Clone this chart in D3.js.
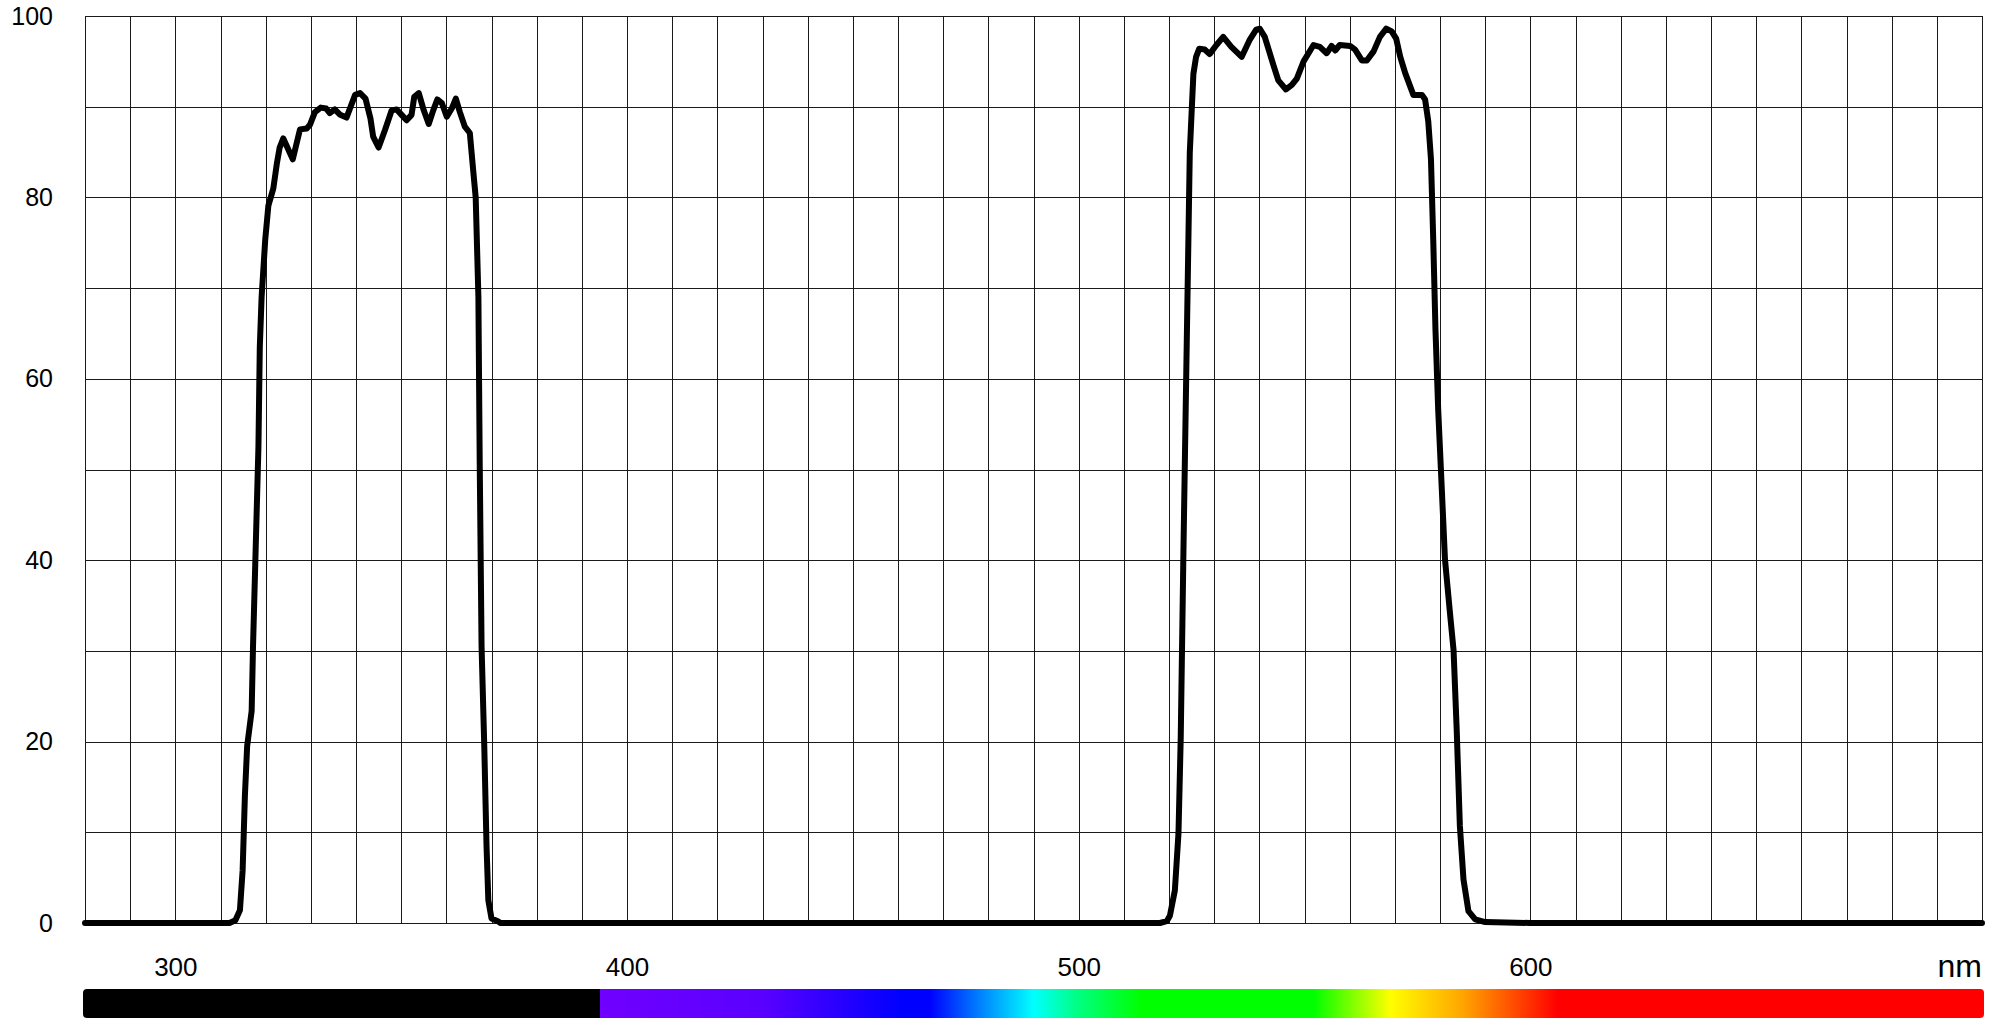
<!DOCTYPE html>
<html>
<head>
<meta charset="utf-8">
<script src="https://cdn.jsdelivr.net/npm/d3@7"></script>
<style>
  body { margin: 0; background: #fff; }
  svg { display: block; font-family: Arial, "Liberation Sans", sans-serif; }
  .grid line { stroke: #1a1a1a; stroke-width: 1; shape-rendering: crispEdges; }
  .grid path { display: none; }
  .lbl text { fill: #000; }
  .ylbl text { font-size: 25px; }
  .xlbl text { font-size: 26px; }
  .lbl path, .lbl line { display: none; }
</style>
</head>
<body>
<script>
"use strict";

// wavelength (nm) and transmission (%)
var wavelength = [280, 300, 312, 313.3, 314.3, 314.9, 315.4, 315.9, 316.9, 317.2, 317.8, 318.4, 318.7, 319.1, 319.9, 320.6,
  321.7, 322.5, 323.1, 323.9, 326.0, 327.6, 329.1, 329.8, 330.9, 332.2, 333.4, 334.2, 335.3, 336.5, 337.9, 339.8,
  340.9, 342.1, 343.2, 343.8, 345.0, 346.4, 347.9, 349.0, 350.1, 351.2, 352.3, 352.9, 353.9, 355.0, 356.1, 357.1,
  358.0, 359.0, 360.1, 361.2, 362.1, 363.0, 364.1, 365.2, 366.0, 366.5, 367.1, 367.4, 367.8, 368.4, 368.9, 369.3,
  370.0, 371.4, 372, 400, 450, 500, 518, 519.5, 520.2, 521.3, 522.1, 522.6, 523.2, 523.8, 524.3, 524.6, 525.0, 525.4,
  526.0, 526.7, 527.9, 529.0, 530.5, 532.0, 533.8, 536.1, 537.9, 539.3, 540.1, 541.2, 543.1, 544.2, 545.9, 547.2,
  548.3, 549.8, 552.0, 553.4, 554.9, 556.0, 556.8, 557.8, 560.1, 561.2, 562.7, 563.8, 565.3, 566.7, 568.1, 569.3,
  570.3, 571.2, 572.3, 574.1, 576.0, 576.7, 577.4, 578.0, 578.5, 579.0, 579.6, 580.4, 581.1, 582.2, 583.0, 583.7,
  584.4, 585.2, 586.3, 587.8, 590, 600, 650, 700];
var transmission = [0, 0, 0, 0.3, 1.4, 5.8, 14, 19.5, 23.4, 30.5, 41.5, 52.5, 63.5, 69, 75.3, 79.1,
  81, 83.8, 85.5, 86.5, 84.2, 87.5, 87.6, 88, 89.4, 89.9, 89.8, 89.3, 89.7, 89.1, 88.8, 91.3,
  91.5, 90.9, 88.7, 86.7, 85.5, 87.4, 89.6, 89.7, 89.1, 88.5, 89.1, 91.1, 91.5, 89.6, 88.1, 89.6,
  90.8, 90.4, 88.9, 89.8, 90.9, 89.4, 87.8, 87.1, 82.7, 80, 69, 50.3, 30.5, 19.5, 8.5, 2.5,
  0.5, 0.2, 0, 0, 0, 0, 0, 0.2, 0.8, 3.6, 9.9, 20.5, 41.1, 59.9, 75.5, 84.9, 89.3, 93.6,
  95.5, 96.4, 96.3, 95.8, 96.8, 97.7, 96.6, 95.5, 97.4, 98.5, 98.6, 97.7, 94.6, 92.9, 91.9, 92.4,
  93.1, 95.0, 96.8, 96.6, 95.9, 96.7, 96.2, 96.8, 96.7, 96.3, 95.1, 95.1, 96.1, 97.7, 98.6, 98.3,
  97.5, 95.5, 93.7, 91.3, 91.3, 90.8, 88.4, 84.2, 75.4, 65.4, 56.6, 47.8, 40.1, 34.2, 30.1, 21.3,
  10.7, 4.8, 1.3, 0.4, 0.1, 0, 0, 0];

// tick labels
var xLabels = [300, 400, 500, 600];
var yLabels = [0, 20, 40, 60, 80, 100];

// spectrum strip under the axis: wavelength -> colour
var stripNm = [280, 394, 394, 430, 461, 467, 478, 490, 500, 514, 552, 569, 585, 606, 700];
var stripColor = ["#000000", "#000000", "#7000ff", "#5a00ff", "#0000ff", "#0000ff", "#0080ff", "#00ffff",
  "#00ff80", "#00ff00", "#00ff00", "#ffff00", "#ffa500", "#ff0000", "#ff0000"];

var data = wavelength.map(function(w, i) { return {nm: w, t: transmission[i]}; });

var W = 1997, H = 1019;
var plotL = 85, plotR = 1982, plotT = 16, plotB = 923;

var x = d3.scaleLinear().domain([280, 700]).range([plotL, plotR]);
var y = d3.scaleLinear().domain([0, 100]).range([plotB, plotT]);

var svg = d3.select("body").append("svg")
    .attr("width", W)
    .attr("height", H);

// vertical grid every 10 nm
svg.append("g")
    .attr("class", "grid")
    .attr("transform", "translate(0," + plotB + ")")
    .call(d3.axisBottom(x).tickValues(d3.range(280, 701, 10)).tickSize(-(plotB - plotT)).tickFormat(""));

// horizontal grid every 10 %
svg.append("g")
    .attr("class", "grid")
    .attr("transform", "translate(" + plotL + ",0)")
    .call(d3.axisLeft(y).tickValues(d3.range(0, 101, 10)).tickSize(-(plotR - plotL)).tickFormat(""));

// y labels
svg.append("g")
    .attr("class", "lbl ylbl")
    .attr("transform", "translate(" + plotL + ",0)")
    .call(d3.axisLeft(y).tickValues(yLabels).tickSize(0).tickPadding(32));

// x labels
svg.append("g")
    .attr("class", "lbl xlbl")
    .attr("transform", "translate(0," + 950 + ")")
    .call(d3.axisBottom(x).tickValues(xLabels).tickSize(0).tickPadding(0))
  .selectAll("text")
    .attr("dy", "1.0em");

svg.append("text")
    .attr("x", plotR)
    .attr("y", 977)
    .attr("text-anchor", "end")
    .style("font-size", "32px")
    .text("nm");

// the transmission curve
var line = d3.line()
    .x(function(d) { return x(d.nm); })
    .y(function(d) { return y(d.t); });

svg.append("path")
    .datum(data)
    .attr("fill", "none")
    .attr("stroke", "#000")
    .attr("stroke-width", 6)
    .attr("stroke-linejoin", "round")
    .attr("stroke-linecap", "round")
    .attr("d", line);

// spectrum strip
var x0 = 83, x1 = 1984;
var grad = svg.append("defs").append("linearGradient")
    .attr("id", "spectrum")
    .attr("gradientUnits", "userSpaceOnUse")
    .attr("x1", x0).attr("x2", x1)
    .attr("y1", 0).attr("y2", 0);

grad.selectAll("stop")
    .data(stripNm)
  .enter().append("stop")
    .attr("offset", function(d) { return Math.max(0, Math.min(1, (x(d) - x0) / (x1 - x0))); })
    .attr("stop-color", function(d, i) { return stripColor[i]; });

svg.append("rect")
    .attr("x", x0)
    .attr("y", 989)
    .attr("width", x1 - x0)
    .attr("height", 29)
    .attr("rx", 4)
    .attr("fill", "url(#spectrum)");
</script>
</body>
</html>
